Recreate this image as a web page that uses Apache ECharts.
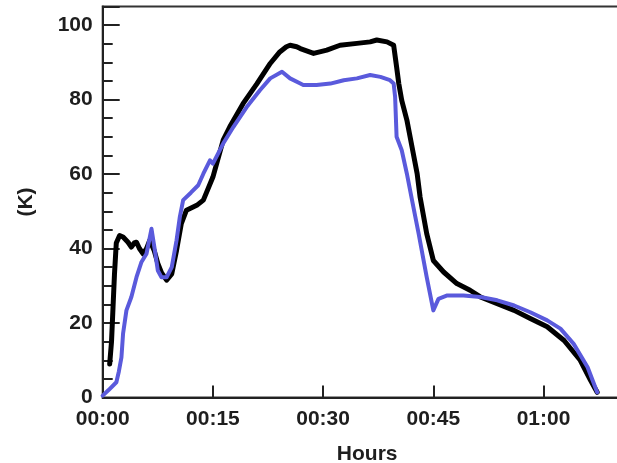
<!DOCTYPE html>
<html>
<head>
<meta charset="utf-8">
<script src="https://cdn.jsdelivr.net/npm/echarts@6/dist/echarts.min.js"></script>
<style>
  html, body { margin: 0; padding: 0; background: #fff; }
  #chart { width: 617px; height: 463px; }
</style>
</head>
<body>
<div id="chart"></div>
<script>
// Elapsed time in minutes and temperature (K) for the two channels
const blackTime = [0.95, 1.2, 1.4, 1.6, 1.85, 2.3, 2.77, 3.45, 3.9, 4.3, 4.6, 5.0, 5.5, 5.96, 6.4, 7.0, 7.5, 8.0, 8.7, 9.4, 10.05, 10.7, 11.4, 12.8, 13.7, 15.0, 16.4, 17.3, 19.1, 21.0, 22.8, 24.1, 25.0, 25.5, 26.4, 26.9, 28.7, 30.5, 32.3, 34.6, 36.4, 37.3, 38.7, 39.6, 40.0, 40.3, 40.7, 41.4, 42.1, 42.8, 43.2, 44.1, 45.0, 46.4, 48.2, 50.0, 51.4, 53.7, 56.0, 58.2, 60.5, 62.8, 65.0, 66.4, 67.3];
const blackTemp = [9.0, 15, 24, 33, 41.5, 43.5, 43.1, 41.7, 40.4, 41.5, 41.7, 40.0, 38.6, 40.0, 42.2, 39.5, 36, 33.5, 31.5, 33.2, 39.5, 46.7, 50.3, 51.6, 53.0, 59.2, 69.1, 72.7, 78.9, 84.3, 89.7, 92.8, 94.2, 94.6, 94.2, 93.7, 92.4, 93.3, 94.6, 95.1, 95.5, 96.0, 95.5, 94.6, 88.8, 84.3, 79.8, 74.5, 67.3, 60.1, 53.8, 44.0, 36.8, 33.7, 30.6, 28.8, 27.0, 25.2, 23.4, 21.2, 19.0, 15.3, 10.0, 4.6, 1.4];

const blueTime = [0, 0.8, 1.86, 2.2, 2.55, 2.77, 3.23, 3.9, 4.6, 5.28, 5.96, 6.64, 7.1, 7.5, 8.0, 8.7, 9.4, 10.05, 10.5, 10.95, 12.0, 13.0, 13.7, 14.6, 15.0, 16.4, 17.8, 19.6, 21.4, 22.8, 24.4, 25.5, 26.9, 27.3, 29.1, 31.0, 32.8, 34.6, 36.4, 37.8, 39.1, 39.6, 39.8, 40.0, 40.7, 41.4, 42.1, 43.0, 44.1, 45.0, 45.7, 46.9, 49.1, 51.4, 53.7, 56.0, 58.2, 60.5, 62.3, 64.1, 66.0, 67.3];
const blueTemp = [0.5, 2, 4.1, 7, 10.8, 17.1, 23.4, 27.0, 32.3, 36.4, 38.6, 45.3, 39.5, 34.1, 32.3, 32.3, 35.0, 42.2, 48.5, 53.0, 55.0, 57.0, 60.1, 63.7, 62.8, 68.2, 72.7, 78.0, 82.5, 85.7, 87.5, 85.7, 84.3, 83.9, 83.9, 84.3, 85.2, 85.7, 86.6, 86.1, 85.2, 84.3, 80.7, 70.0, 66.4, 60.1, 53.0, 44.0, 32.3, 23.4, 26.5, 27.4, 27.4, 27.0, 26.1, 24.7, 22.9, 20.7, 18.5, 14.4, 8.1, 1.4];

const xTickLabels = ['00:00', '00:15', '00:30', '00:45', '01:00'];
const yTickLabels = ['0', '20', '40', '60', '80', '100'];

const zip = (xs, ys) => xs.map((x, i) => [x, ys[i]]);

const FONT = '"Liberation Sans", Arial, Helvetica, sans-serif';
const INK = '#1e1e1e';

const chart = echarts.init(document.getElementById('chart'), null, { renderer: 'canvas' });

const labelStyle = { fontFamily: FONT, fontWeight: 'bold', fontSize: 21, color: INK };

chart.setOption({
  animation: false,
  backgroundColor: '#fff',
  grid: {
    // the frame runs past the right edge of the canvas
    left: 102.7, top: 6.5, height: 391, width: 529,
    outerBoundsMode: 'none', containLabel: false,
    show: true, borderColor: '#333', borderWidth: 2, backgroundColor: 'transparent'
  },
  xAxis: {
    type: 'value', min: 0, max: 72, interval: 15,
    name: 'Hours', nameLocation: 'middle', nameGap: 46,
    nameTextStyle: labelStyle,
    axisLine: { lineStyle: { color: '#222', width: 2 } },
    axisTick: { inside: true, length: 12, lineStyle: { color: '#222', width: 2 } },
    axisLabel: Object.assign({ margin: 11, formatter: v => (v % 15 === 0 ? xTickLabels[v / 15] || '' : '') }, labelStyle),
    splitLine: { show: false }
  },
  yAxis: [{
    type: 'value', min: 0, max: 105, interval: 20,
    name: '(K)', nameLocation: 'middle', nameGap: 66, nameRotate: 90,
    nameTextStyle: labelStyle,
    axisLine: { lineStyle: { color: '#222', width: 2 } },
    axisTick: { inside: true, length: 17, lineStyle: { color: '#222', width: 2 } },
    axisLabel: Object.assign({ margin: 10, formatter: v => (v % 20 === 0 ? yTickLabels[v / 20] || '' : '') }, labelStyle),
    splitLine: { show: false }
  }, {
    // minor ticks every 5 K
    type: 'value', min: 0, max: 105, interval: 5, position: 'left', offset: 0,
    axisLine: { show: false },
    axisTick: { inside: true, length: 10, lineStyle: { color: '#222', width: 2 } },
    axisLabel: { show: false },
    splitLine: { show: false }
  }],
  series: [{
    name: 'Channel A', type: 'line', data: zip(blackTime, blackTemp),
    showSymbol: false, z: 2,
    lineStyle: { color: '#000', width: 5, join: 'round', cap: 'round' }
  }, {
    name: 'Channel B', type: 'line', data: zip(blueTime, blueTemp),
    showSymbol: false, z: 3,
    lineStyle: { color: '#5a5adc', width: 4, join: 'round', cap: 'round' }
  }]
});
</script>
</body>
</html>
